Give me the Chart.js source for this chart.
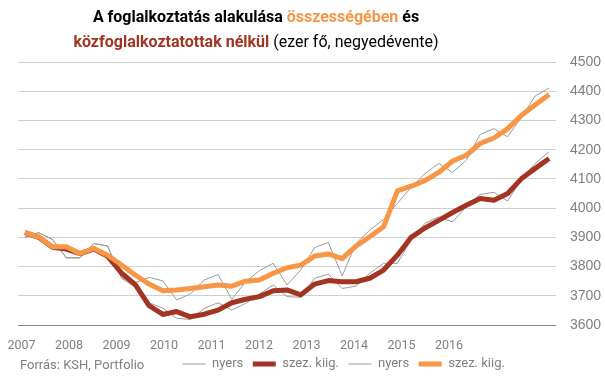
<!DOCTYPE html>
<html>
<head>
<meta charset="utf-8">
<script src="https://cdn.jsdelivr.net/npm/chart.js@4.4.1/dist/chart.umd.min.js"></script>
<style>
html,body{margin:0;padding:0;background:#fff;}
#wrap{width:605px;height:378px;position:relative;}
</style>
</head>
<body>
<div id="wrap"><canvas id="c" width="605" height="378"></canvas></div>
<script>
// Quarterly categories (2007 Q1 – 2016 Q3)
const quarters = [
  '2007 I.','2007 II.','2007 III.','2007 IV.',
  '2008 I.','2008 II.','2008 III.','2008 IV.',
  '2009 I.','2009 II.','2009 III.','2009 IV.',
  '2010 I.','2010 II.','2010 III.','2010 IV.',
  '2011 I.','2011 II.','2011 III.','2011 IV.',
  '2012 I.','2012 II.','2012 III.','2012 IV.',
  '2013 I.','2013 II.','2013 III.','2013 IV.',
  '2014 I.','2014 II.','2014 III.','2014 IV.',
  '2015 I.','2015 II.','2015 III.','2015 IV.',
  '2016 I.','2016 II.','2016 III.'
];

// Total employment, seasonally adjusted (orange)
const totalAdj = [3916,3902,3868,3868,3845,3862,3839,3805,3771,3740,
                  3717,3720,3725,3731,3737,3733,3750,3754,3777,3796,
                  3805,3836,3843,3827,3870,3902,3936,4059,4075,4094,
                  4122,4161,4181,4221,4240,4272,4318,4354,4389];
// Total employment, raw (grey)
const totalRaw = [3900,3916,3893,3830,3830,3879,3870,3762,3745,3763,
                  3751,3686,3706,3754,3773,3688,3748,3786,3811,3737,
                  3788,3865,3882,3768,3879,3925,3961,4016,4071,4118,
                  4153,4122,4164,4252,4272,4244,4312,4384,4411];
// Excluding public-works employees, seasonally adjusted (dark red)
const exclAdj = [3916,3900,3866,3860,3844,3860,3835,3778,3738,3666,
                 3636,3646,3628,3637,3651,3676,3688,3697,3717,3720,
                 3703,3740,3752,3748,3748,3760,3788,3839,3900,3932,
                 3958,3985,4010,4033,4027,4050,4101,4136,4170];
// Excluding public-works employees, raw (grey)
const exclRaw = [3900,3916,3893,3830,3830,3879,3870,3760,3730,3676,
                 3658,3623,3619,3657,3676,3651,3674,3706,3737,3697,
                 3695,3760,3774,3725,3733,3777,3811,3811,3891,3948,
                 3970,3953,4005,4047,4054,4024,4101,4153,4193];

// Axis tick labels
const yearTicks = [2007,2008,2009,2010,2011,2012,2013,2014,2015,2016];
const yTicks = [3600,3700,3800,3900,4000,4100,4200,4300,4400,4500];

const ORANGE = '#F79646';
const DARKRED = '#A33322';
const GREY = '#9a9a9a';
const TXT = '#808080';
const TITLEFONT = 'Roboto';
const NARROW = "Roboto, sans-serif";
const SANS = "'Liberation Sans', Arial, sans-serif";

const titlePlugin = {
  id: 'richTitle',
  afterDraw(chart) {
    const ctx = chart.ctx;
    const lines = [
      {y: 18, segs: [
        ['A foglalkoztatás alakulása ', '#000000', 'bold'],
        ['összességében', ORANGE, 'bold'],
        [' és', '#000000', 'bold']
      ]},
      {y: 43, segs: [
        ['közfoglalkoztatottak nélkül', DARKRED, 'bold'],
        [' (ezer fő, negyedévente)', '#000000', 'normal']
      ]}
    ];
    ctx.save();
    ctx.textBaseline = 'middle';
    ctx.textAlign = 'left';
    lines.forEach(l => {
      let total = 0;
      l.segs.forEach(s => { ctx.font = s[2] + ' 16px ' + TITLEFONT; total += ctx.measureText(s[0]).width; });
      let x = 256 - total / 2;
      l.segs.forEach(s => {
        ctx.font = s[2] + ' 16px ' + TITLEFONT;
        ctx.fillStyle = s[1];
        ctx.fillText(s[0], x, l.y);
        x += ctx.measureText(s[0]).width;
      });
    });
    // source
    ctx.font = '13px ' + NARROW;
    ctx.fillStyle = TXT;
    ctx.fillText('Forrás: KSH, Portfolio', 20, 366);
    ctx.restore();
  }
};

const legendShift = {
  id: 'legendShift',
  afterLayout(chart) {
    const lg = chart.legend;
    if (lg) {
      lg.left = 173;
      lg.right = 605;
      lg.top = 348;
      lg.bottom = 378;
    }
  }
};

new Chart(document.getElementById('c'), {
  type: 'line',
  data: {
    labels: quarters,
    datasets: [
      {label: 'nyers', data: exclRaw, borderColor: GREY, borderWidth: 1, order: 4},
      {label: 'szez. kiig.', data: exclAdj, borderColor: DARKRED, borderWidth: 5, order: 2},
      {label: 'nyers', data: totalRaw, borderColor: GREY, borderWidth: 1, order: 3},
      {label: 'szez. kiig.', data: totalAdj, borderColor: ORANGE, borderWidth: 5, order: 1}
    ]
  },
  options: {
    responsive: false,
    animation: false,
    devicePixelRatio: 1,
    elements: {
      point: {radius: 0, hoverRadius: 0},
      line: {tension: 0, fill: false, borderJoinStyle: 'round', borderCapStyle: 'butt'}
    },
    layout: {padding: {top: 62, left: 18, right: 0, bottom: 0}},
    plugins: {
      title: {display: false},
      tooltip: {enabled: false},
      legend: {
        display: true,
        position: 'bottom',
        align: 'start',
        maxHeight: 1,
        labels: {
          usePointStyle: true,
          pointStyle: 'line',
          pointStyleWidth: 23,
          boxHeight: 10,
          padding: 9.5,
          color: TXT,
          font: {family: NARROW, size: 13},
          sort: (a, b) => a.datasetIndex - b.datasetIndex
        }
      }
    },
    scales: {
      x: {
        type: 'category',
        display: false,
        offset: true
      },
      xYears: {
        type: 'linear',
        position: 'bottom',
        min: 2006.926,
        max: 2018.252,
        afterBuildTicks: (s) => { s.ticks = yearTicks.map(v => ({value: v})); },
        afterFit: (s) => { s.height = 52; s.paddingLeft = 0; s.paddingRight = 0; },
        grid: {display: false, drawTicks: false},
        border: {display: false},
        ticks: {
          color: TXT,
          font: {family: NARROW, size: 12.5},
          padding: 13.5,
          autoSkip: false,
          maxRotation: 0,
          callback: (v) => String(v)
        }
      },
      y: {
        position: 'right',
        min: 3600,
        max: 4500,
        afterBuildTicks: (s) => { s.ticks = yTicks.map(v => ({value: v})); },
        afterFit: (s) => { s.width = 49; },
        grid: {
          drawTicks: false,
          color: (c) => c.tick && c.tick.value === 3600 ? '#8c8c8c' : '#d0d0d0',
          lineWidth: 1
        },
        border: {display: false},
        ticks: {
          color: TXT,
          font: {family: SANS, size: 14},
          padding: 14,
          callback: (v) => String(v)
        }
      }
    }
  },
  plugins: [titlePlugin, legendShift]
});
</script>
</body>
</html>
